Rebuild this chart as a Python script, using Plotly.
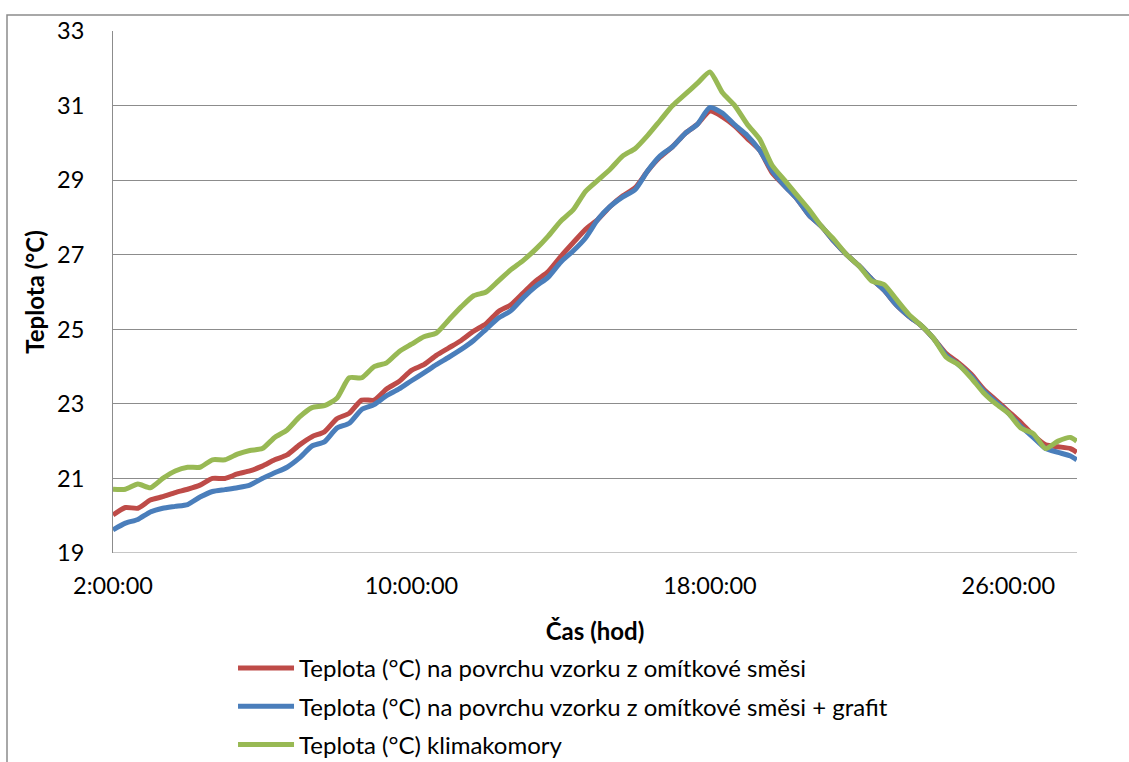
import plotly.graph_objects as go

# time axis (hours since 0:00), 20-minute steps from 2:00 to 27:40, plus final 27:50
time_h = [2 + i / 3 for i in range(78)] + [27 + 50 / 60]

tick_vals = [2, 10, 18, 26]
tick_text = ["2:00:00", "10:00:00", "18:00:00", "26:00:00"]

names = [
    "Teplota (°C) na povrchu vzorku z omítkové směsi",
    "Teplota (°C) na povrchu vzorku z omítkové směsi + grafit",
    "Teplota (°C) klimakomory",
]

t_omitka = [20.02, 20.22, 20.2, 20.42, 20.51, 20.62, 20.71, 20.82, 21.0, 21.0,
            21.12, 21.2, 21.33, 21.5, 21.63, 21.9, 22.12, 22.25, 22.6, 22.75,
            23.1, 23.1, 23.4, 23.6, 23.9, 24.05, 24.3, 24.5, 24.7, 24.95,
            25.15, 25.48, 25.66, 25.98, 26.3, 26.55, 26.95, 27.32, 27.68, 27.95,
            28.3, 28.58, 28.8, 29.25, 29.62, 29.9, 30.25, 30.5, 30.85, 30.7,
            30.45, 30.12, 29.8, 29.2, 28.85, 28.5, 28.05, 27.75, 27.35, 27.0,
            26.7, 26.35, 26.05, 25.65, 25.35, 25.1, 24.75, 24.35, 24.1, 23.8,
            23.4, 23.1, 22.8, 22.5, 22.16, 21.9, 21.85, 21.8, 21.7]

t_grafit = [19.62, 19.8, 19.9, 20.1, 20.2, 20.25, 20.3, 20.5, 20.65, 20.7,
            20.75, 20.82, 21.0, 21.15, 21.3, 21.55, 21.87, 21.98, 22.35, 22.48,
            22.85, 22.98, 23.22, 23.4, 23.62, 23.83, 24.05, 24.25, 24.46, 24.7,
            25.0, 25.3, 25.5, 25.85, 26.15, 26.4, 26.8, 27.1, 27.45, 27.95,
            28.3, 28.55, 28.75, 29.25, 29.65, 29.9, 30.25, 30.5, 30.95, 30.8,
            30.48, 30.2, 29.8, 29.25, 28.85, 28.5, 28.05, 27.75, 27.35, 27.0,
            26.7, 26.35, 26.05, 25.65, 25.35, 25.1, 24.75, 24.3, 24.05, 23.75,
            23.35, 23.05, 22.75, 22.4, 22.1, 21.8, 21.7, 21.6, 21.5]

t_komora = [20.71, 20.71, 20.85, 20.75, 21.0, 21.2, 21.3, 21.3, 21.5, 21.5,
            21.65, 21.75, 21.8, 22.1, 22.3, 22.65, 22.9, 22.95, 23.15, 23.7,
            23.7, 24.0, 24.1, 24.4, 24.6, 24.8, 24.9, 25.25, 25.6, 25.9,
            26.0, 26.3, 26.6, 26.85, 27.15, 27.5, 27.9, 28.2, 28.7, 29.0,
            29.3, 29.65, 29.85, 30.2, 30.6, 31.0, 31.3, 31.6, 31.9, 31.35,
            31.0, 30.5, 30.1, 29.4, 29.0, 28.6, 28.2, 27.75, 27.4, 27.0,
            26.7, 26.3, 26.2, 25.8, 25.4, 25.1, 24.75, 24.25, 24.05, 23.7,
            23.3, 23.0, 22.75, 22.35, 22.2, 21.8, 22.0, 22.1, 22.0]

colors = ["#BE4B48", "#4A7EBB", "#98B954"]
FONT = "Lato"
GRID = "#8C8C8C"

fig = go.Figure()
for i, (nm, ys) in enumerate(zip(names, [t_omitka, t_grafit, t_komora])):
    fig.add_trace(go.Scatter(
        x=time_h, y=ys, mode="lines", name=nm, legendgroup=f"g{i}",
        line=dict(color=colors[i], width=5, shape="spline", smoothing=0.6),
    ))

fig.update_layout(
    width=1129, height=762,
    margin=dict(l=113, r=52, t=31, b=209, autoexpand=False),
    paper_bgcolor="white", plot_bgcolor="white",
    font=dict(family=FONT, size=23.5, color="black"),
    showlegend=True,
    legend=dict(
        x=0.1245, y=-0.178, xanchor="left", yanchor="top",
        orientation="v", traceorder="grouped", tracegroupgap=4,
        font=dict(family=FONT, size=24, color="black"),
        bgcolor="rgba(0,0,0,0)", itemwidth=56,
    ),
    xaxis=dict(
        range=[2, 27.84], tickvals=tick_vals, ticktext=tick_text,
        showgrid=False, zeroline=False, showline=False, ticks="",
        ticklabelstandoff=16,
        title=dict(text="<b>Čas (hod)</b>", font=dict(family=FONT, size=24), standoff=25),
    ),
    yaxis=dict(
        range=[19, 33], dtick=2, tick0=19,
        showgrid=True, gridcolor=GRID, gridwidth=1,
        zeroline=False, showline=True, linecolor=GRID, linewidth=1,
        ticks="", ticklabelstandoff=23,
        title=dict(text="<b>Teplota (°C)</b>", font=dict(family=FONT, size=24), standoff=5),
    ),
    shapes=[
        dict(type="rect", xref="paper", yref="paper",
             x0=(7 - 113) / 964, x1=1.2, y0=-0.6, y1=1 + 16 / 522,
             line=dict(color=GRID, width=1.5), fillcolor="rgba(0,0,0,0)", layer="below"),
        dict(type="line", xref="paper", yref="y", x0=0, x1=1, y0=19, y1=19,
             line=dict(color=GRID, width=1)),
    ],
)

fig.write_html("out.html", config={"displayModeBar": False},
               post_script="document.body.style.margin='0';")
